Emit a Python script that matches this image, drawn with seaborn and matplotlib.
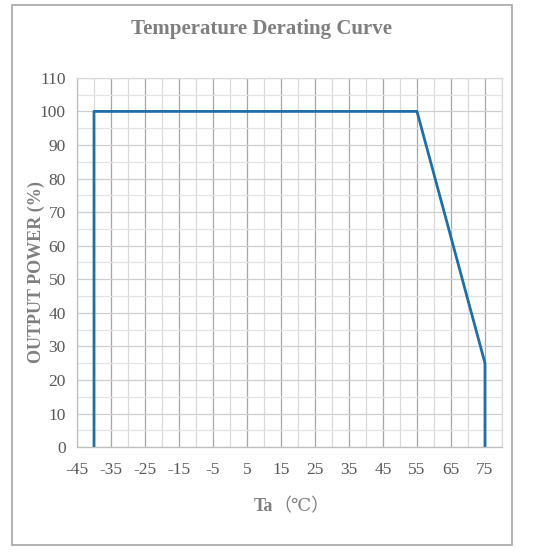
import pandas as pd
import seaborn as sns
import matplotlib.pyplot as plt
from matplotlib.patches import Rectangle
from matplotlib.ticker import MultipleLocator

# derating curve points
temperature = [-40, -40, 55, 75, 75]
output_power = [0, 100, 100, 25, 0]
x_ticks = list(range(-45, 76, 10))
y_ticks = list(range(0, 111, 10))

df = pd.DataFrame({'Ta': temperature, 'Power': output_power})

sns.set_theme(style='white')
plt.rcParams['font.family'] = ['Liberation Serif', 'DejaVu Sans']
plt.rcParams['axes.unicode_minus'] = False

fig = plt.figure(figsize=(5.4, 5.52), dpi=100)
ax = fig.add_axes([0.1426, 0.190, 0.787, 0.669])

# estimator=None so the two points at -40 and 75 stay separate
sns.lineplot(data=df, x='Ta', y='Power', sort=False, estimator=None,
             color='#1f6ea6', linewidth=2.0, ax=ax)

ax.set_xlim(-45, 80)
ax.set_ylim(0, 110)
ax.set_xticks(x_ticks)
ax.set_yticks(y_ticks)
ax.xaxis.set_minor_locator(MultipleLocator(5))
ax.yaxis.set_minor_locator(MultipleLocator(5))
ax.grid(True, which='major', axis='x', color='#a6a6a6', linewidth=0.9)
ax.grid(True, which='minor', axis='x', color='#d9d9d9', linewidth=0.9)
ax.grid(True, which='major', axis='y', color='#cfcfcf', linewidth=0.9)
ax.grid(True, which='minor', axis='y', color='#e3e3e3', linewidth=0.9)
ax.set_axisbelow(True)
ax.tick_params(which='both', length=0, labelsize=12.5, labelcolor='#595959')
ax.tick_params(axis='x', pad=11)
ax.tick_params(axis='y', pad=8)

for side in ['top', 'right']:
    ax.spines[side].set_color('#d9d9d9')
for side in ['left', 'bottom']:
    ax.spines[side].set_color('#bfbfbf')
for s in ax.spines.values():
    s.set_linewidth(0.9)

ax.set_xlabel('')
ax.set_ylabel('')

fig.text(0.485, 0.947, 'Temperature Derating Curve', ha='center', va='center',
         fontsize=15, fontweight='bold', color='#7f7f7f')
fig.text(0.068, 0.507, 'OUTPUT POWER (%)', ha='center', va='center', rotation=90,
         fontsize=13, fontweight='bold', color='#7f7f7f')
# x label: bold "Ta" then the unit in normal weight
fig.text(0.505, 0.083, 'Ta', ha='right', va='center',
         fontsize=13, fontweight='bold', color='#7f7f7f')
fig.text(0.507, 0.083, '（℃）', ha='left', va='center',
         fontsize=13, color='#7f7f7f',
         family=['Liberation Serif', 'DejaVu Serif', 'Noto Sans CJK SC'])

# outer frame
fig.patches.append(Rectangle((0.022, 0.013), 0.926, 0.978, transform=fig.transFigure,
                             fill=False, edgecolor='#a6a6a6', linewidth=1.2))

fig.savefig('out.png', dpi=100)
